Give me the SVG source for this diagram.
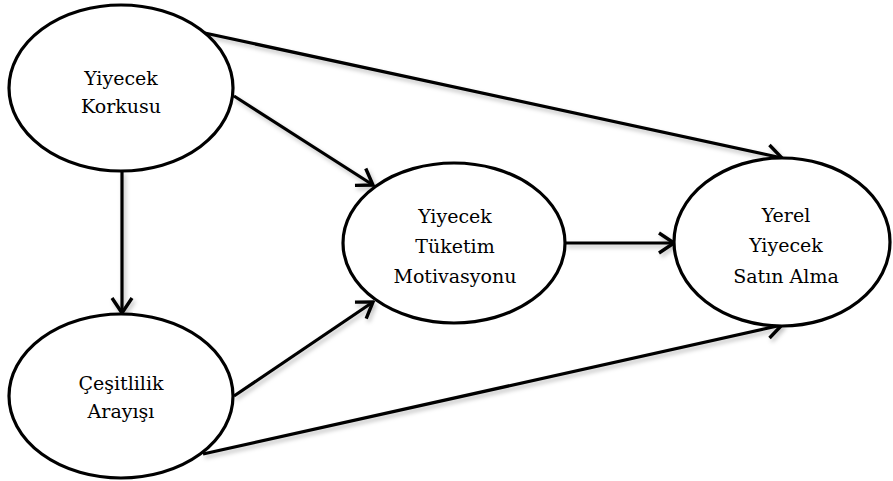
<svg xmlns="http://www.w3.org/2000/svg" width="893" height="481" viewBox="0 0 893 481">
<style>
.node ellipse{fill:#fff;stroke:#000;stroke-width:3.2}
.node text{font-family:'DejaVu Serif',serif;font-size:19px;fill:#000;text-anchor:middle}
.edge{stroke:#000;stroke-width:3.2;fill:none;marker-end:url(#arr)}
</style>
<defs>
<marker id="arr" markerUnits="userSpaceOnUse" viewBox="0 0 20 24" refX="18" refY="12" markerWidth="20" markerHeight="24" orient="auto">
<path d="M3,2 L18,12 L3,22" fill="none" stroke="#000" stroke-width="3.4" stroke-linejoin="miter"/>
</marker>
<filter id="sh" x="-5%" y="-5%" width="110%" height="115%">
<feDropShadow dx="2" dy="3" stdDeviation="2" flood-color="#000" flood-opacity="0.25"/>
</filter>
</defs>
<g id="connectors" filter="url(#sh)">
<line class="edge" x1="200" y1="32" x2="782" y2="158"/>
<line class="edge" x1="234" y1="96" x2="373" y2="185"/>
<line class="edge" x1="122" y1="171" x2="122" y2="313"/>
<line class="edge" x1="234" y1="396" x2="373" y2="302"/>
<line class="edge" x1="203" y1="454" x2="782" y2="325"/>
<line class="edge" x1="565" y1="243" x2="674" y2="243"/>
</g>
<g id="yiyecek-korkusu" class="node">
<ellipse cx="121" cy="88" rx="112" ry="83"/>
<text x="121" y="85">Yiyecek</text>
<text x="121" y="113">Korkusu</text>
</g>
<g id="cesitlilik-arayisi" class="node">
<ellipse cx="121" cy="396" rx="112" ry="82"/>
<text x="121" y="390">Çeşitlilik</text>
<text x="121" y="418">Arayışı</text>
</g>
<g id="tuketim-motivasyonu" class="node">
<ellipse cx="454" cy="243" rx="111" ry="80"/>
<text x="455" y="223">Yiyecek</text>
<text x="455" y="253">Tüketim</text>
<text x="455" y="283">Motivasyonu</text>
</g>
<g id="yerel-yiyecek" class="node">
<ellipse cx="782" cy="242" rx="108" ry="84"/>
<text x="786" y="222">Yerel</text>
<text x="786" y="252">Yiyecek</text>
<text x="786" y="283">Satın Alma</text>
</g>
</svg>
